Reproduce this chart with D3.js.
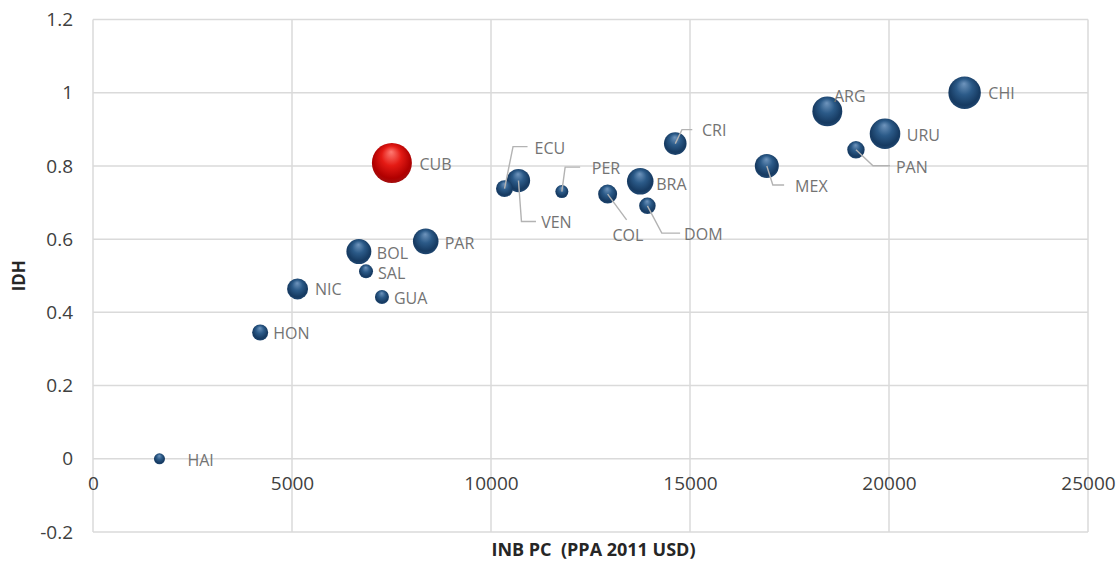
<!DOCTYPE html>
<html>
<head>
<meta charset="utf-8">
<script src="https://cdn.jsdelivr.net/npm/d3@7"></script>
<style>
  html, body { margin: 0; padding: 0; background: #ffffff; }
  svg { display: block; }
</style>
</head>
<body>
<svg id="chart" width="1118" height="561"></svg>
<script>
// Country codes, GNI per capita (PPP 2011 USD), HDI index and bubble size
const countries = ["HAI","HON","NIC","GUA","SAL","BOL","PAR","CUB","ECU","VEN","PER","COL","BRA","DOM","CRI","MEX","ARG","PAN","URU","CHI"];
const inbPc     = [1670, 4200, 5140, 7260, 6860, 6680, 8360, 7510, 10340, 10690, 11780, 12930, 13750, 13930, 14630, 16930, 18450, 19170, 19900, 21900];
const idh       = [0.000, 0.345, 0.464, 0.442, 0.512, 0.566, 0.594, 0.808, 0.738, 0.760, 0.730, 0.723, 0.758, 0.691, 0.861, 0.800, 0.949, 0.844, 0.888, 1.000];
const bubbleSize = [7.6, 16, 27.6, 12.3, 12.3, 39, 41, 100, 18, 34, 10.6, 22.6, 44, 17, 32, 36, 56, 19, 58.5, 66];
const highlighted = ["CUB"];

const xTicks = [0, 5000, 10000, 15000, 20000, 25000];
const yTicks = [-0.2, 0, 0.2, 0.4, 0.6, 0.8, 1, 1.2];
const xTitle = "INB PC  (PPA 2011 USD)";
const yTitle = "IDH";

// Label placement relative to the bubble centre (pixels); leader = polyline for callouts
const labelLayout = {
  HAI: { dx: 28, dy: 1 },
  HON: { dx: 13, dy: 0.6 },
  NIC: { dx: 17.5, dy: 0 },
  GUA: { dx: 12, dy: 1 },
  SAL: { dx: 12, dy: 1.6 },
  BOL: { dx: 18, dy: 1.6 },
  PAR: { dx: 19, dy: 1.6 },
  CUB: { dx: 27.6, dy: 0.7 },
  BRA: { dx: 16, dy: 2.3 },
  ARG: { dx: 6.7, dy: -15 },
  URU: { dx: 21.7, dy: 1 },
  CHI: { dx: 23.7, dy: 0.6 },
  ECU: { dx: 30, dy: -41, leader: [[0,0],[8.5,-42],[23,-42]] },
  VEN: { dx: 22.7, dy: 41.3, leader: [[0,0],[3,41],[17.5,41]] },
  PER: { dx: 30, dy: -23.7, leader: [[0,0],[3.3,-24.4],[18.3,-24.4]] },
  COL: { dx: 20.3, dy: 40.7, anchor: "middle", leader: [[0,0],[19,25.7]] },
  DOM: { dx: 36.7, dy: 28, leader: [[0,0],[14.4,27.3],[32.7,27.3]] },
  CRI: { dx: 26.7, dy: -13.3, leader: [[0,0],[6.7,-14],[17,-14]] },
  MEX: { dx: 28.3, dy: 20, leader: [[0,0],[6,19],[17.3,19]] },
  PAN: { dx: 40, dy: 16.7, leader: [[0,0],[17,16],[34,16]] }
};

const svg = d3.select("#chart");
const W = 1118, H = 561;
const plot = { left: 93, right: 1088, top: 19.5, bottom: 532 };

svg.append("rect").attr("width", W).attr("height", H).attr("fill", "#ffffff");

const x = d3.scaleLinear().domain([0, 25000]).range([plot.left, plot.right]);
const y = d3.scaleLinear().domain([-0.2, 1.2]).range([plot.bottom, plot.top]);
const r = d3.scaleSqrt().domain([0, 100]).range([0, 20]);

// Sphere shading
const defs = svg.append("defs");
function sphere(id, light, mid, dark, rim) {
  const g = defs.append("radialGradient").attr("id", id)
    .attr("cx", "50%").attr("cy", "45%").attr("r", "55%")
    .attr("fx", "48%").attr("fy", "22%");
  g.append("stop").attr("offset", "0%").attr("stop-color", light);
  g.append("stop").attr("offset", "45%").attr("stop-color", mid);
  g.append("stop").attr("offset", "85%").attr("stop-color", dark);
  g.append("stop").attr("offset", "100%").attr("stop-color", rim);
}
sphere("ballBlue", "#6f95bd", "#2b5a88", "#163a61", "#1f4670");
sphere("ballRed", "#ff7a72", "#e41a14", "#b00000", "#a30e0e");

// Grid
const grid = svg.append("g").attr("stroke", "#dadada").attr("stroke-width", 1.5).attr("fill", "none");
grid.selectAll("line.v").data(xTicks).join("line")
  .attr("x1", d => x(d)).attr("x2", d => x(d))
  .attr("y1", plot.top).attr("y2", plot.bottom);
grid.selectAll("line.h").data(yTicks).join("line")
  .attr("x1", plot.left).attr("x2", plot.right)
  .attr("y1", d => y(d)).attr("y2", d => y(d));

// Axes (labels only; the grid provides the lines)
const fmtX = d3.format("d");
const fmtY = d => d3.format("~g")(d).replace("−", "-");

const xAxis = d3.axisBottom(x).tickValues(xTicks).tickFormat(fmtX).tickSize(0).tickPadding(18);
const gx = svg.append("g").attr("transform", `translate(0,${y(0)})`).call(xAxis);
gx.select(".domain").remove();
gx.selectAll("text").attr("font-family", "'Open Sans', sans-serif").attr("font-size", 19).attr("fill", "#404040");

const yAxis = d3.axisLeft(y).tickValues(yTicks).tickFormat(fmtY).tickSize(0).tickPadding(20);
const gy = svg.append("g").attr("transform", `translate(${plot.left},0)`).call(yAxis);
gy.select(".domain").remove();
gy.selectAll("text").attr("font-family", "'Open Sans', sans-serif").attr("font-size", 19).attr("fill", "#404040");

// Axis titles
svg.append("text")
  .attr("x", (plot.left + plot.right) / 2 + 3).attr("y", 549)
  .attr("text-anchor", "middle").attr("dominant-baseline", "central")
  .attr("font-family", "'Open Sans', sans-serif").attr("font-weight", "bold").attr("font-size", 18)
  .attr("fill", "#262626")
  .style("white-space", "pre")
  .text(xTitle);
svg.append("text")
  .attr("transform", `translate(18,${(plot.top + plot.bottom) / 2}) rotate(-90)`)
  .attr("text-anchor", "middle").attr("dominant-baseline", "central")
  .attr("font-family", "'Open Sans', sans-serif").attr("font-weight", "bold").attr("font-size", 17)
  .attr("fill", "#262626")
  .text(yTitle);

const data = countries.map((c, i) => ({ code: c, x: inbPc[i], y: idh[i], s: bubbleSize[i] }));

// Bubbles, largest first so smaller ones sit on top
const bubbles = svg.append("g");
bubbles.selectAll("circle").data(data.slice().sort((a, b) => b.s - a.s)).join("circle")
  .attr("cx", d => x(d.x)).attr("cy", d => y(d.y)).attr("r", d => r(d.s))
  .attr("fill", d => highlighted.includes(d.code) ? "url(#ballRed)" : "url(#ballBlue)");

// Leader lines
const line = d3.line();
svg.append("g").attr("fill", "none").attr("stroke", "#b3b3b3").attr("stroke-width", 1.4)
  .selectAll("path").data(data.filter(d => labelLayout[d.code].leader)).join("path")
  .attr("d", d => line(labelLayout[d.code].leader.map(p => [x(d.x) + p[0], y(d.y) + p[1]])));

// Country labels
svg.append("g").selectAll("text").data(data).join("text")
  .attr("x", d => x(d.x) + labelLayout[d.code].dx)
  .attr("y", d => y(d.y) + labelLayout[d.code].dy)
  .attr("text-anchor", d => labelLayout[d.code].anchor || "start")
  .attr("dominant-baseline", "central")
  .attr("font-family", "'Open Sans', sans-serif").attr("font-size", 16)
  .attr("fill", "#737373")
  .text(d => d.code);
</script>
</body>
</html>
